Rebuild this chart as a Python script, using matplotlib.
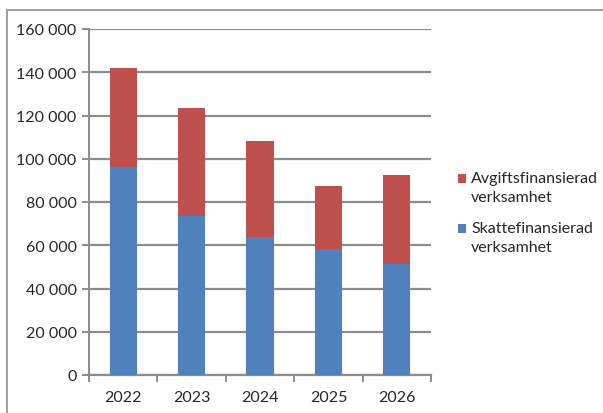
import matplotlib
matplotlib.use("Agg")
import matplotlib.pyplot as plt
from matplotlib.patches import Rectangle
from matplotlib.ticker import FuncFormatter, FixedLocator, NullFormatter

years = ["2022", "2023", "2024", "2025", "2026"]
skatt = [96300, 73500, 63950, 58100, 51200]
avgift = [45500, 50100, 44400, 29450, 41300]
series_names = ["Skattefinansierad\nverksamhet", "Avgiftsfinansierad\nverksamhet"]

plt.rcParams['font.family'] = ['Lato', 'DejaVu Sans']

W, H = 603, 414
fig = plt.figure(figsize=(W / 100, H / 100), dpi=100)
fig.patch.set_facecolor("white")


def fx(px):
    return px / W


def fy(py):
    return 1 - py / H


# outer chart frame
fig.add_artist(Rectangle((fx(7), -0.05), 1.2, fy(11) + 0.05, transform=fig.transFigure,
                         fill=False, edgecolor="#8c8c8c", linewidth=1.2))

ax = fig.add_axes([fx(89), fy(376), fx(431 - 89), (376 - 30) / H])
x = list(range(len(years)))
blue = "#4F81BD"
red = "#C0504D"
b1 = ax.bar(x, skatt, width=0.4, color=blue, edgecolor="none", zorder=3)
b2 = ax.bar(x, avgift, bottom=skatt, width=0.4, color=red, edgecolor="none", zorder=3)

ax.set_xlim(-0.5, len(years) - 0.5)
ax.set_ylim(0, 160000)
ax.set_yticks(range(0, 160001, 20000))
ax.yaxis.set_major_formatter(FuncFormatter(lambda v, p: f"{int(v):,}".replace(",", " ")))
ax.grid(axis="y", color="#8c8c8c", linewidth=1.6, zorder=0)
for s in ["top", "right"]:
    ax.spines[s].set_visible(False)
ax.spines["left"].set_color("#8c8c8c")
ax.spines["left"].set_linewidth(1.4)
ax.spines["bottom"].set_color("#8c8c8c")
ax.spines["bottom"].set_linewidth(1.6)

ax.set_xticks(x)
ax.set_xticklabels(years)
ax.tick_params(axis="x", length=0, pad=11, labelsize=11.5, colors="#262626")
ax.xaxis.set_minor_locator(FixedLocator([i - 0.5 for i in range(len(years) + 1)]))
ax.xaxis.set_minor_formatter(NullFormatter())
ax.tick_params(axis="x", which="minor", length=5, width=1.4, color="#8c8c8c", direction="out")
ax.tick_params(axis="y", length=5, width=1.4, color="#8c8c8c", labelsize=11.5, labelcolor="#262626", pad=4)

# legend: Avgiftsfinansierad on top, Skattefinansierad below
legend_items = [(series_names[1], red, 179), (series_names[0], blue, 229)]
for label, color, yc in legend_items:
    fig.add_artist(Rectangle((fx(458), fy(yc + 4.5)), 8 / W, 9 / H, transform=fig.transFigure,
                             facecolor=color, edgecolor="none"))
    fig.text(fx(471), fy(yc - 7), label, ha="left", va="top", fontsize=11.5,
             color="#262626", linespacing=1.45)

fig.savefig("out.png", dpi=100)
